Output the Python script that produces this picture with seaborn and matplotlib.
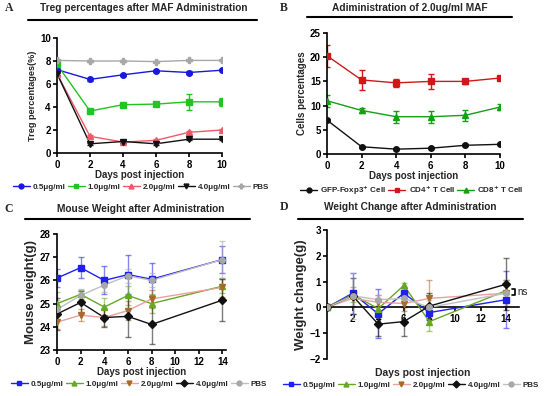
import numpy as np
import pandas as pd
import seaborn as sns
import matplotlib.pyplot as plt
from matplotlib.lines import Line2D

# data
days_a = [0, 2, 4, 6, 8, 10]
groups = ['0.5μg/ml', '1.0μg/ml', '2.0μg/ml', '4.0μg/ml', 'PBS']
treg = {
    '0.5μg/ml': [7.25, 6.4, 6.8, 7.15, 7.0, 7.2],
    '1.0μg/ml': [7.7, 3.65, 4.2, 4.25, 4.45, 4.45],
    '2.0μg/ml': [6.9, 1.45, 0.95, 1.1, 1.8, 2.0],
    '4.0μg/ml': [6.9, 0.8, 1.0, 0.8, 1.2, 1.2],
    'PBS': [8.05, 8.0, 8.0, 7.95, 8.05, 8.05],
}
treg_err = {
    '0.5μg/ml': [0.1, 0.15, 0.1, 0.1, 0.1, 0.1],
    '1.0μg/ml': [0.15, 0.15, 0.15, 0.15, 0.7, 0.35],
    '2.0μg/ml': [0.1, 0.1, 0.1, 0.15, 0.15, 0.1],
    '4.0μg/ml': [0.1, 0.1, 0.1, 0.1, 0.1, 0.1],
    'PBS': [0.05, 0.05, 0.05, 0.05, 0.05, 0.05],
}

cells = ['GFP-Foxp3$^{+}$ Cell', 'CD4$^{+}$ T Cell', 'CD8$^{+}$ T Cell']
cell_pct = {
    cells[0]: [7.0, 1.5, 1.0, 1.2, 1.8, 2.0],
    cells[1]: [20.3, 15.3, 14.7, 15.0, 15.0, 15.7],
    cells[2]: [11.0, 9.0, 7.7, 7.7, 8.0, 9.7],
}
cell_err = {
    cells[0]: [0.2, 0.2, 0.2, 0.2, 0.2, 0.2],
    cells[1]: [2.3, 2.0, 0.8, 1.5, 0.5, 0.3],
    cells[2]: [1.2, 0.5, 1.2, 1.2, 1.1, 0.6],
}

days_c = [0, 2, 4, 6, 8, 14]
weight = {
    '0.5μg/ml': [26.1, 26.55, 26.0, 26.25, 26.05, 26.9],
    '1.0μg/ml': [25.0, 25.4, 24.85, 25.35, 25.0, 25.75],
    '2.0μg/ml': [24.2, 24.5, 24.4, 24.7, 25.2, 25.7],
    '4.0μg/ml': [24.55, 25.05, 24.4, 24.45, 24.1, 25.15],
    'PBS': [24.75, 25.35, 25.8, 26.2, 26.0, 26.9],
}
weight_err = {
    '0.5μg/ml': [0.4, 0.45, 0.6, 0.85, 0.7, 0.6],
    '1.0μg/ml': [0.5, 0.2, 0.4, 0.4, 0.4, 0.3],
    '2.0μg/ml': [0.3, 0.25, 0.35, 0.4, 0.4, 0.4],
    '4.0μg/ml': [0.7, 0.5, 0.4, 0.9, 0.85, 0.9],
    'PBS': [0.4, 0.3, 0.3, 0.3, 0.3, 0.8],
}

change = {
    '0.5μg/ml': [0, 0.55, -0.25, 0.55, -0.2, 0.3],
    '1.0μg/ml': [0, 0.5, -0.05, 0.85, -0.55, 0.65],
    '2.0μg/ml': [0, 0.35, 0.2, 0.15, 0.35, 0.55],
    '4.0μg/ml': [0, 0.45, -0.65, -0.55, 0.05, 0.9],
    'PBS': [0, 0.45, 0.3, 0.35, 0.0, 0.55],
}
change_err = {
    '0.5μg/ml': [0, 0.8, 0.95, 0.2, 0.3, 1.1],
    '1.0μg/ml': [0, 0.3, 0.3, 0.1, 0.35, 0.4],
    '2.0μg/ml': [0, 0.3, 0.3, 0.3, 0.7, 0.5],
    '4.0μg/ml': [0, 0.7, 0.45, 0.55, 0.5, 1.0],
    'PBS': [0, 0.9, 0.2, 0.3, 0.3, 0.5],
}

sns.set_style('ticks')
plt.rcParams['font.family'] = ['Liberation Sans', 'DejaVu Sans']
plt.rcParams['font.weight'] = 'bold'
plt.rcParams['axes.labelweight'] = 'bold'
plt.rcParams['axes.linewidth'] = 1.2
plt.rcParams['xtick.major.width'] = 1.2
plt.rcParams['ytick.major.width'] = 1.2
plt.rcParams['xtick.major.size'] = 3
plt.rcParams['ytick.major.size'] = 3
plt.rcParams['xtick.major.pad'] = 2
plt.rcParams['ytick.major.pad'] = 1.5
plt.rcParams['xtick.labelsize'] = 7
plt.rcParams['ytick.labelsize'] = 7
plt.rcParams['xtick.color'] = 'black'
plt.rcParams['ytick.color'] = 'black'
plt.rcParams['axes.edgecolor'] = 'black'
plt.rcParams['mathtext.default'] = 'bf'

fig = plt.figure(figsize=(5.5, 3.96), dpi=100)


def panel(ax, days, vals, errs, names, colors, markers, lcolors, ealpha=1.0, ms=4):
    rows = []
    for n in names:
        for d, v in zip(days, vals[n]):
            rows.append({'day': d, 'val': v, 'grp': n})
    df = pd.DataFrame(rows)
    for n, c, m, lc in zip(names, colors, markers, lcolors):
        ax.errorbar(days, vals[n], yerr=errs[n], fmt='none', ecolor=c, elinewidth=1,
                    capsize=2.5, capthick=1, alpha=ealpha, zorder=2)
        sub = df[df['grp'] == n]
        sns.lineplot(data=sub, x='day', y='val', ax=ax, color=lc, lw=1, legend=False,
                     marker=None, zorder=3)
        ax.plot(days, vals[n], ls='none', marker=m, color=c, ms=ms, zorder=4)
    sns.despine(ax=ax)
    ax.set_xlabel('')
    ax.set_ylabel('')


def head(letter, title, lx, ty, tx, ly, x0, x1):
    fig.text(lx, 1 - ty / 396, letter, fontsize=8.5, fontweight='bold',
             family='Liberation Serif', ha='left', va='center')
    fig.text(tx, 1 - ty / 396, title, fontsize=7.3, fontweight='bold', ha='center',
             va='center')
    fig.add_artist(Line2D([x0 / 550, x1 / 550], [1 - ly / 396, 1 - ly / 396],
                          color='black', lw=1.5, transform=fig.transFigure))


def legend(names, colors, markers, lcolors, x, y, ms=3.5):
    handles = [Line2D([], [], color=lc, marker=m, mfc=c, mec=c, ms=ms, lw=1)
               for c, m, lc in zip(colors, markers, lcolors)]
    fig.legend(handles, names, loc='center', bbox_to_anchor=(x / 550, 1 - y / 396),
               ncol=len(names), frameon=False, handlelength=2.1, handletextpad=0.4,
               columnspacing=0.25, borderpad=0, prop={'weight': 'bold', 'size': 5.8})


# panel A
ax = fig.add_axes([57 / 550, 1 - 153 / 396, 165 / 550, 115 / 396])
ca = ['#1818e0', '#22c422', '#f05868', '#111111', '#a8a8a8']
ma = ['o', 's', '^', 'v', 'P']
panel(ax, days_a, treg, treg_err, groups, ca, ma, ca)
ax.set_xlim(0, 10)
ax.set_ylim(0, 10)
ax.set_xticks(days_a)
ax.set_yticks([0, 2, 4, 6, 8, 10])
ax.set_xlabel('Days post injection', fontsize=7, labelpad=0)
ax.set_ylabel('Treg percentages(%)', fontsize=6.6, labelpad=2)
head('A', 'Treg percentages after MAF Administration', 0.008, 8, 0.262, 20, 28, 257)
legend(groups, ca, ma, ca, 141, 187)

# panel B
ax = fig.add_axes([327 / 550, 1 - 154 / 396, 173 / 550, 121 / 396])
cb = ['#111111', '#d01818', '#14a014']
mb = ['o', 's', '^']
panel(ax, days_a, cell_pct, cell_err, cells, cb, mb, cb)
ax.set_xlim(0, 10)
ax.set_ylim(0, 25)
ax.set_xticks(days_a)
ax.set_yticks([0, 5, 10, 15, 20, 25])
ax.set_xlabel('Days post injection', fontsize=7, labelpad=0)
ax.set_ylabel('Cells percentages', fontsize=7, labelpad=2)
head('B', 'Adiministration of 2.0ug/ml MAF', 0.508, 8, 0.745, 17, 307, 512)
legend(cells, cb, mb, cb, 412, 190)

# panel C
ax = fig.add_axes([57 / 550, 1 - 350 / 396, 169 / 550, 116 / 396])
cc = ['#2020ee', '#66a822', '#a86a2a', '#111111', '#a8a8a8']
lc = ['#2020ee', '#66a822', '#e8a0a0', '#111111', '#c0c0c0']
mc = ['s', '^', 'v', 'D', 'o']
panel(ax, days_c, weight, weight_err, groups, cc, mc, lc, ealpha=0.55, ms=4)
ax.set_xlim(0, 14.3)
ax.set_ylim(23, 28)
ax.set_xticks([0, 2, 4, 6, 8, 10, 12, 14])
ax.set_yticks([23, 24, 25, 26, 27, 28])
ax.set_xlabel('Days post injection', fontsize=7, labelpad=0)
ax.set_ylabel('Mouse weight(g)', fontsize=9.5, labelpad=2)
head('C', 'Mouse Weight after Administration', 0.008, 209, 0.255, 219, 25, 250)
legend(groups, cc, mc, lc, 139, 384)

# panel D
ax = fig.add_axes([327 / 550, 1 - 359 / 396, 192 / 550, 129 / 396])
panel(ax, days_c, change, change_err, groups, cc, mc, lc, ealpha=0.55, ms=4)
ax.set_xlim(0, 15)
ax.set_ylim(-2, 3)
ax.spines['bottom'].set_position(('data', 0))
ax.set_xticks([0, 2, 4, 6, 8, 10, 12, 14])
ax.set_xticklabels(['', '2', '4', '6', '8', '10', '12', '14'])
ax.set_yticks([-2, -1, 0, 1, 2, 3])
ax.set_xlabel('Days post injection', fontsize=7.5)
ax.xaxis.set_label_coords(0.5, -0.07)
ax.set_ylabel('Weight change(g)', fontsize=9.5, labelpad=2)
ax.plot([14.45, 14.7, 14.7, 14.45], [0.5, 0.5, 0.72, 0.72], color='black', lw=1.2,
        clip_on=False)
ax.text(14.9, 0.6, 'ns', fontsize=7, fontweight='normal', va='center', ha='left')
head('D', 'Weight Change after Administration', 0.508, 207, 0.745, 219, 298, 523)
legend(groups, cc, mc, lc, 411, 385)

fig.savefig('out.png', dpi=100)
